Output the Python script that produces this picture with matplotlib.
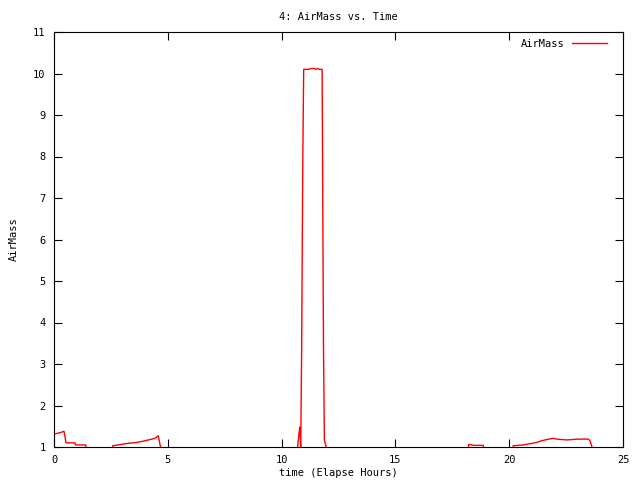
import numpy as np
import matplotlib
matplotlib.use("Agg")
import matplotlib.pyplot as plt

hours = [0.0, 0.30, 0.44, 0.53, 0.92, 0.94, 1.39, 1.42, np.nan,
         2.55, 2.58, 3.27, 3.63, 3.92, 4.22, 4.44, 4.58, 4.70, np.nan,
         10.70, 10.72, 10.76, 10.80, 10.82, 10.84, 10.88, 10.93, 10.97,
         11.20, 11.28, 11.45, 11.50, 11.60, 11.65, 11.78, 11.80, 11.84, 11.88, 11.98, np.nan,
         18.20, 18.22, 18.35, 18.45, 18.86, 18.90, np.nan,
         20.15, 20.18, 20.62, 20.92, 21.21, 21.43, 21.65, 21.94, 22.08,
         22.53, 23.04, 23.48, 23.55, 23.67]
airmass = [1.31, 1.35, 1.38, 1.10, 1.10, 1.05, 1.05, 0.95, np.nan,
           0.95, 1.03, 1.09, 1.11, 1.14, 1.18, 1.21, 1.27, 0.95, np.nan,
           0.95, 1.10, 1.30, 1.48, 1.20, 1.00, 3.30, 7.84, 10.10,
           10.10, 10.12, 10.12, 10.10, 10.12, 10.10, 10.10, 7.87, 3.43, 1.17, 0.95, np.nan,
           0.95, 1.06, 1.05, 1.04, 1.04, 0.95, np.nan,
           0.95, 1.03, 1.05, 1.08, 1.11, 1.15, 1.18, 1.21, 1.19,
           1.17, 1.19, 1.19, 1.15, 0.95]

xticks = [0, 5, 10, 15, 20, 25]
yticks = [1, 2, 3, 4, 5, 6, 7, 8, 9, 10, 11]

plt.rcParams['font.family'] = ['DejaVu Sans Mono']
fig = plt.figure(figsize=(6.4, 4.8), dpi=100)
ax = fig.add_axes([54/640, 1-447/480, (623-54)/640, (447-32)/480])
ax.plot(hours, airmass, color='#ff0000', lw=1.0, label='AirMass')
ax.set_xlim(0, 25)
ax.set_ylim(1, 11)
ax.set_xticks(xticks)
ax.set_yticks(yticks)
ax.tick_params(direction='in', length=6, width=0.8, top=True, right=True, labelsize=7.5, pad=6)
for s in ax.spines.values():
    s.set_linewidth(0.8)
ax.set_xlabel('time (Elapse Hours)', fontsize=7.5, labelpad=2)
ax.set_ylabel('AirMass', fontsize=7.5, labelpad=10)
ax.set_title('4: AirMass vs. Time', fontsize=7.5, pad=9)
ax.legend(loc='upper right', bbox_to_anchor=(0.983, 1.0), frameon=False, markerfirst=False,
          fontsize=7.5, handlelength=3.3, borderaxespad=0.35, borderpad=0.3, handletextpad=0.7)
fig.savefig('out.png', dpi=100)
